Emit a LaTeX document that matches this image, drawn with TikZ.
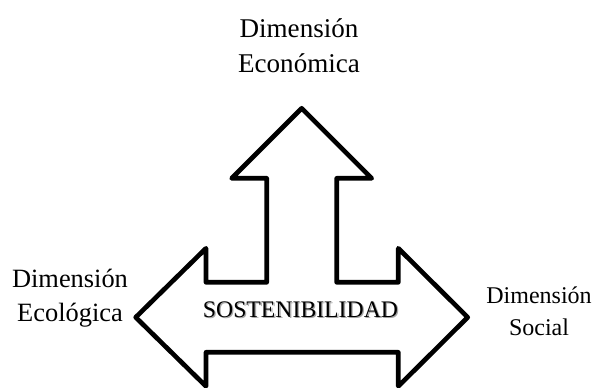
\documentclass[tikz,border=0pt]{standalone}
\usepackage{fontspec}
\setmainfont{Liberation Serif}
\begin{document}
\begin{tikzpicture}[x=0.75pt,y=-0.75pt,
  outline/.style={draw=black,line width=3.5pt,line join=round,fill=white},
  lbl/.style={align=center,inner sep=0pt,anchor=base}]
\useasboundingbox (0,0) rectangle (593,387);
\begin{scope}
\clip (0,0) rectangle (593,387);
\draw[outline] (301.7,108.3) -- (371.7,178.3) -- (336.7,178.3) -- (336.7,282.3)
  -- (398.3,282.3) -- (398.3,248.3) -- (467.7,317.3) -- (398.3,386.3)
  -- (398.3,352.3) -- (206,352.3) -- (206,386.3) -- (135.7,317.3)
  -- (206,248.3) -- (206,282.3) -- (266.7,282.3) -- (266.7,178.3)
  -- (231.7,178.3) -- cycle;
\end{scope}
\node[lbl,text=black!35,font=\fontsize{17.8pt}{21pt}\selectfont] (shadow) at (301.8,318.8) {SOSTENIBILIDAD};
\node[lbl,font=\fontsize{17.8pt}{21pt}\selectfont] (sost) at (300.5,317.8) {SOSTENIBILIDAD};
\node[lbl,font=\fontsize{20.3pt}{26.25pt}\selectfont] (eco) at (299,72) {Dimensión\\Económica};
\node[lbl,font=\fontsize{19.8pt}{25.5pt}\selectfont] (ecol) at (70,321.7) {Dimensión\\Ecológica};
\node[lbl,font=\fontsize{18pt}{24pt}\selectfont] (soc) at (539,335) {Dimensión\\Social};
\end{tikzpicture}
\end{document}
